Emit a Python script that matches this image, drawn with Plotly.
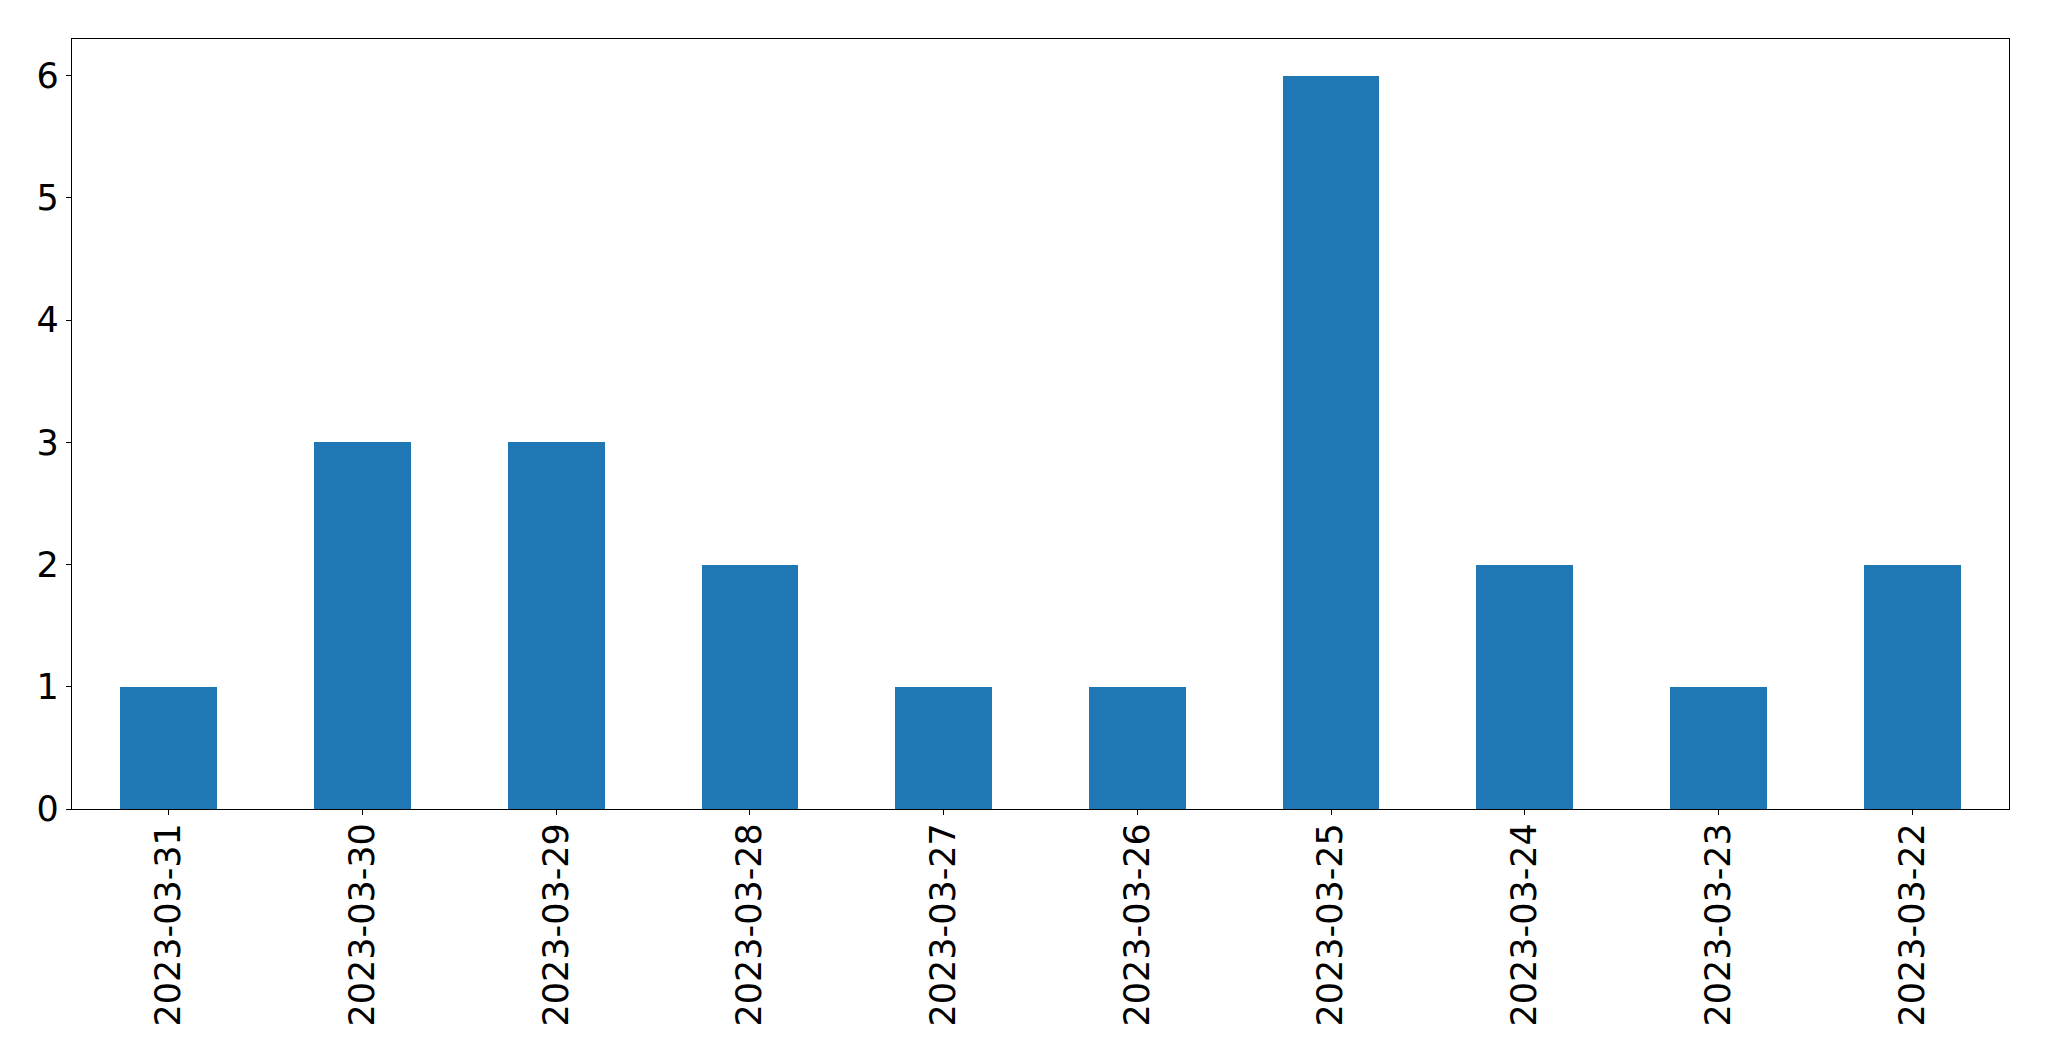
import plotly.graph_objects as go

dates = ["2023-03-31", "2023-03-30", "2023-03-29", "2023-03-28", "2023-03-27",
         "2023-03-26", "2023-03-25", "2023-03-24", "2023-03-23", "2023-03-22"]
counts = [1, 3, 3, 2, 1, 1, 6, 2, 1, 2]
y_ticks = [0, 1, 2, 3, 4, 5, 6]

fig = go.Figure(go.Bar(x=dates, y=counts, marker_color="#1f77b4",
                       marker_line_width=0, width=0.5))

font = dict(family="DejaVu Sans", size=35, color="black")
fig.update_layout(
    width=2041, height=1053,
    margin=dict(l=64, r=40, t=31, b=252, pad=0),
    plot_bgcolor="white", paper_bgcolor="white",
    showlegend=False, font=font, bargap=0,
)
fig.update_xaxes(type="category", range=[-0.5, 9.5], tickangle=-90,
                 showline=True, linecolor="black", linewidth=1.3, mirror=True,
                 ticks="outside", ticklen=5, tickwidth=1.3, tickcolor="black",
                 ticklabelstandoff=-6,
                 showgrid=False, zeroline=False, tickfont=font)
fig.update_yaxes(range=[0, 6.3], tickvals=y_ticks,
                 showline=True, linecolor="black", linewidth=1.3, mirror=True,
                 ticks="outside", ticklen=5, tickwidth=1.3, tickcolor="black",
                 showgrid=False, zeroline=False, tickfont=font)

fig.write_html("out.html")
